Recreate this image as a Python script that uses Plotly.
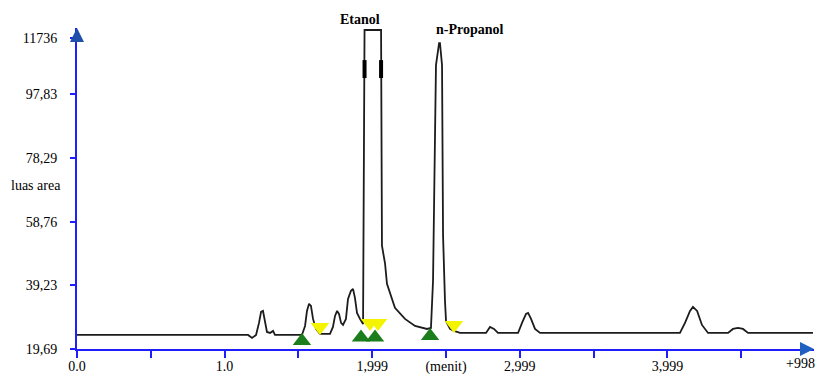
import plotly.graph_objects as go

# Chromatogram trace (time in minutes, response "luas area")
time_min = [0.0, 1.159, 1.186, 1.213, 1.233, 1.247, 1.260, 1.274, 1.287, 1.308, 1.328, 1.341,
            1.524, 1.545, 1.558, 1.572, 1.585, 1.599, 1.619, 1.646, 1.714, 1.734, 1.748, 1.762,
            1.775, 1.789, 1.802, 1.822, 1.836, 1.856, 1.870, 1.883, 1.897, 1.917, 1.938,
            1.948, 2.060, 2.066, 2.087, 2.100, 2.121, 2.154, 2.222, 2.290, 2.371, 2.398,
            2.412, 2.432, 2.453, 2.459, 2.473, 2.480, 2.493, 2.500, 2.527, 2.554, 2.595,
            2.771, 2.798, 2.825, 2.852, 2.988, 3.015, 3.042, 3.056, 3.076, 3.103, 3.137,
            4.085, 4.119, 4.153, 4.173, 4.201, 4.234, 4.275, 4.411, 4.444, 4.478, 4.512, 4.546, 4.986]
signal = [24.00, 24.00, 23.07, 24.00, 27.69, 31.07, 31.38, 27.69, 24.92, 24.61, 25.23, 24.00,
          24.00, 26.77, 31.38, 33.54, 32.92, 28.92, 25.84, 24.30, 24.30, 26.46, 29.84, 31.38,
          30.46, 27.69, 27.07, 28.92, 35.07, 37.54, 38.15, 35.38, 30.77, 28.92, 27.38,
          117.54, 117.54, 51.38, 45.85, 39.69, 36.61, 32.31, 28.92, 26.77, 25.84, 26.15,
          40.61, 106.77, 113.54, 113.54, 106.77, 54.46, 34.46, 28.31, 25.84, 25.23, 24.61,
          24.61, 26.46, 25.84, 24.61, 24.61, 27.69, 30.46, 30.77, 28.92, 25.84, 24.61,
          24.61, 27.69, 31.38, 32.61, 31.38, 27.07, 24.61, 24.61, 25.84, 26.15, 25.84, 24.61, 24.61]

# Break marks on the clipped Etanol peak
break_x = [1.948, 1.948, None, 2.060, 2.060]
break_y = [102.8, 108.3, None, 102.8, 108.3]

# Integration markers
peak_start_x = [1.524, 1.924, 2.019, 2.392]
peak_start_y = [22.15, 23.23, 23.23, 23.69]
peak_end_x = [1.646, 1.985, 2.039, 2.554]
peak_end_y = [26.46, 27.69, 27.69, 27.07]

# Axis ticks
y_tickvals = [19.69, 39.23, 58.76, 78.29, 97.83, 115.08]
y_ticktext = ["19,69", "39,23", "58,76", "78,29", "97,83", "11736"]
x_tickvals = [0, 0.5, 1.0, 1.5, 2.0, 2.5, 3.0, 3.5, 4.0, 4.5]
x_ticktext = ["0.0", "", "1.0", "", "1,999", "(menit)", "2,999", "", "3,999", ""]

peak_names = ["Etanol", "n-Propanol"]
peak_label_x = [1.92, 2.66]
peak_label_yfrac = [1.025, 0.994]

BLUE = "#1e1eff"
FONT = "Liberation Serif"

fig = go.Figure()
fig.add_trace(go.Scatter(x=time_min, y=signal, mode="lines",
                         line=dict(color="#1c1c1c", width=1.8), hoverinfo="skip"))
fig.add_trace(go.Scatter(x=break_x, y=break_y, mode="lines",
                         line=dict(color="#000000", width=4), hoverinfo="skip"))
fig.add_trace(go.Scatter(x=peak_start_x, y=peak_start_y, mode="markers",
                         marker=dict(symbol="triangle-up", size=16, color="#1b7d1b",
                                     line=dict(width=0)), cliponaxis=False))
fig.add_trace(go.Scatter(x=peak_end_x, y=peak_end_y, mode="markers",
                         marker=dict(symbol="triangle-down", size=16, color="#f4f400",
                                     line=dict(width=0))))

for name, lx, ly in zip(peak_names, peak_label_x, peak_label_yfrac):
    fig.add_annotation(x=lx, y=ly, xref="x", yref="paper", text="<b>%s</b>" % name,
                       showarrow=False, xanchor="center", yanchor="middle",
                       font=dict(family=FONT, size=14, color="#000000"))

# y axis title
fig.add_annotation(xref="paper", yref="paper", x=-0.056, y=0.51, text="luas area",
                   xanchor="center", yanchor="middle",
                   showarrow=False, font=dict(family=FONT, size=14, color="#000000"))
# "+998" end label
fig.add_annotation(x=4.9, y=0, xref="x", yref="paper", yshift=-14, text="+998",
                   xanchor="center", yanchor="middle",
                   showarrow=False, font=dict(family=FONT, size=14, color="#000000"))

# axis arrowheads
fig.add_annotation(x=0, y=1, xref="x", yref="paper", ax=0, ay=14, text="",
                   showarrow=True, arrowhead=2, arrowsize=1.4, arrowwidth=2, arrowcolor="#1f4fa8")
fig.add_annotation(x=1, y=0, xref="paper", yref="paper", ax=-14, ay=0, text="",
                   showarrow=True, arrowhead=2, arrowsize=1.4, arrowwidth=2, arrowcolor="#1f60c0")

fig.update_layout(
    width=815, height=374,
    margin=dict(l=77, r=1, t=28, b=25, autoexpand=False),
    paper_bgcolor="white", plot_bgcolor="white",
    showlegend=False,
    font=dict(family=FONT, size=14, color="#000000"),
)
fig.update_xaxes(range=[0, 4.993], showgrid=False, zeroline=False, automargin=False,
                 showline=True, linecolor=BLUE, linewidth=2,
                 ticks="outside", ticklen=7, tickwidth=2, tickcolor=BLUE,
                 tickvals=x_tickvals, ticktext=x_ticktext, ticklabelstandoff=-4,
                 tickfont=dict(family=FONT, size=14, color="#000000"))
fig.update_yaxes(range=[19.69, 118.15], showgrid=False, zeroline=False, automargin=False,
                 showline=True, linecolor=BLUE, linewidth=2,
                 ticks="outside", ticklen=5, tickwidth=2, tickcolor=BLUE,
                 tickvals=y_tickvals, ticktext=y_ticktext, ticklabelstandoff=10,
                 tickfont=dict(family=FONT, size=14, color="#000000"))

fig.write_html("out.html", config={"displayModeBar": False},
               post_script="document.body.style.margin='0';document.body.style.overflow='hidden';")
